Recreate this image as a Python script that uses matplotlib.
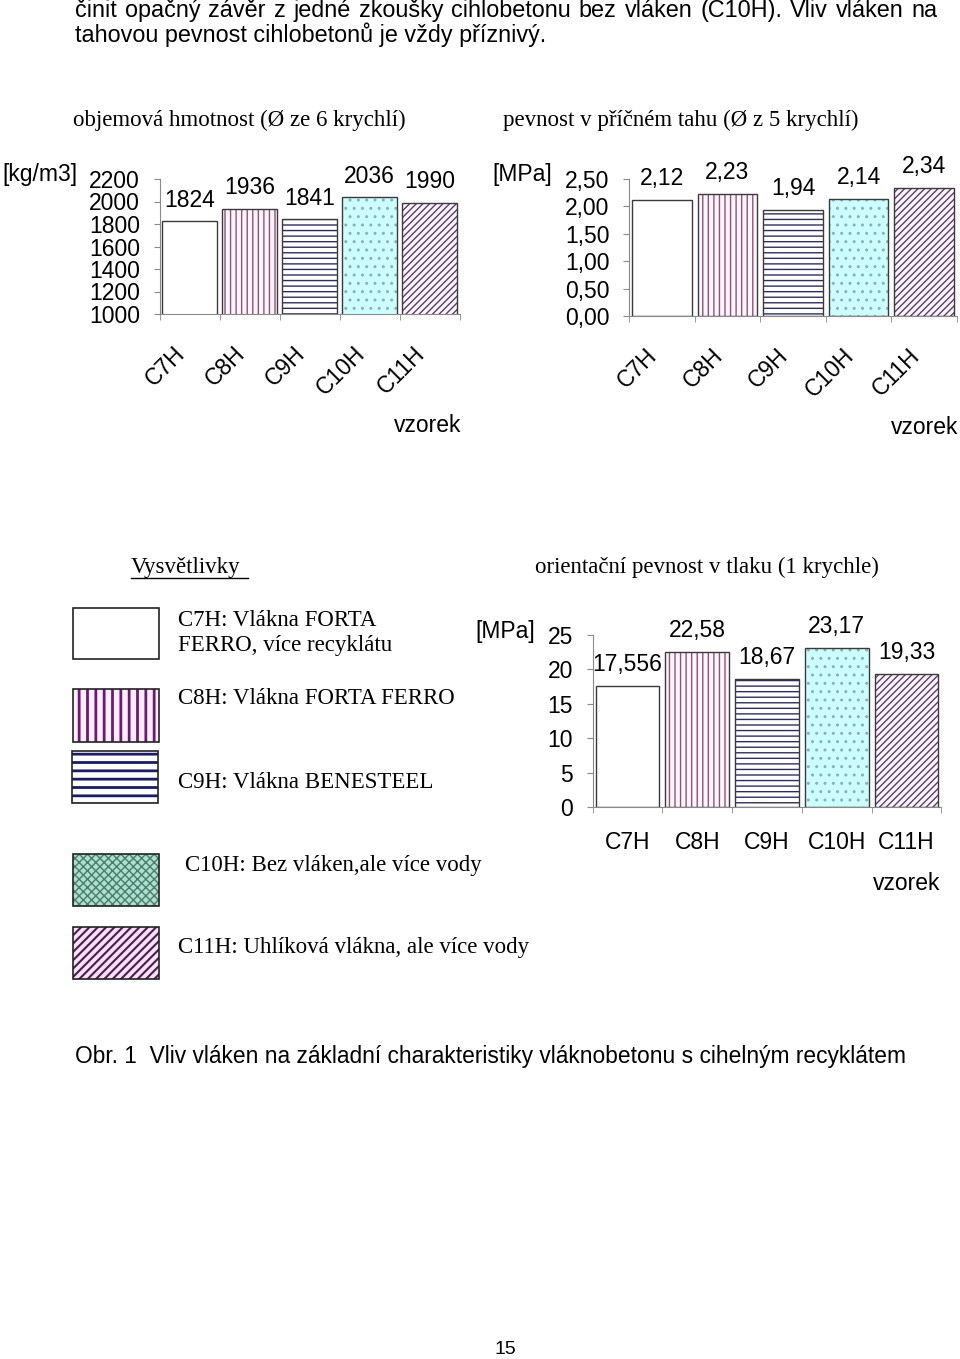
import matplotlib.pyplot as plt
from matplotlib.patches import Rectangle
from matplotlib.lines import Line2D
from matplotlib.transforms import ScaledTranslation

W, H = 960, 1359

samples = ['C7H', 'C8H', 'C9H', 'C10H', 'C11H']

density = [1824, 1936, 1841, 2036, 1990]
density_labels = ['1824', '1936', '1841', '2036', '1990']
density_ticks = [1000, 1200, 1400, 1600, 1800, 2000, 2200]

tensile = [2.12, 2.23, 1.94, 2.14, 2.34]
tensile_labels = ['2,12', '2,23', '1,94', '2,14', '2,34']
tensile_ticks = [0.0, 0.5, 1.0, 1.5, 2.0, 2.5]
tensile_tick_labels = ['0,00', '0,50', '1,00', '1,50', '2,00', '2,50']

compress = [17.556, 22.58, 18.67, 23.17, 19.33]
compress_labels = ['17,556', '22,58', '18,67', '23,17', '19,33']
compress_ticks = [0, 5, 10, 15, 20, 25]

legend_texts = ['C7H: Vlákna FORTA\nFERRO, více recyklátu',
                'C8H: Vlákna FORTA FERRO',
                'C9H: Vlákna BENESTEEL',
                'C10H: Bez vláken,ale více vody',
                'C11H: Uhlíková vlákna, ale více vody']

line1 = 'činit opačný závěr z jedné zkoušky cihlobetonu bez vláken (C10H). Vliv vláken na'
line2 = 'tahovou pevnost cihlobetonů je vždy příznivý.'
caption = 'Obr. 1  Vliv vláken na základní charakteristiky vláknobetonu s cihelným recyklátem'

# bar styles (face, hatch, hatch colour)
bar_face = ['white', '#fdf6fa', 'white', '#ccffff', '#fbf6fb']
bar_hatch = [None, '|||', '---', '..', '/////']
bar_hcol = ['white', '#94507a', '#2e2e5e', '#8fb0b4', '#5e3a6e']

SANS = 'Liberation Sans'
SERIF = 'Liberation Serif'
FS = 16.5

fig = plt.figure(figsize=(W / 100, H / 100), dpi=100)


def box(l, t, r, b):
    return [l / W, 1 - b / H, (r - l) / W, (b - t) / H]


def fx(x):
    return x / W


def fy(y):
    return 1 - y / H


def draw_chart(ax, vals, labels, ylim, yticks, ytlabels, rotate, pad_x, shift):
    x = list(range(len(vals)))
    for i in x:
        ax.bar(i, vals[i], width=0.91, color=bar_face[i], hatch=bar_hatch[i],
               edgecolor=bar_hcol[i], linewidth=0, zorder=2)
    outl = ax.bar(x, vals, width=0.91, fill=False, edgecolor='#3a3a3a',
                  linewidth=1.0, zorder=3)
    ax.bar_label(outl, labels=labels, padding=7, fontsize=FS, family=SANS,
                 clip_on=False)
    ax.set_xlim(-0.5, len(vals) - 0.5)
    ax.set_ylim(*ylim)
    ax.set_yticks(yticks, ytlabels, fontsize=FS, family=SANS)
    for s in ['top', 'right']:
        ax.spines[s].set_visible(False)
    for s in ['left', 'bottom']:
        ax.spines[s].set_color('#8a8a8a')
        ax.spines[s].set_linewidth(0.8)
    ax.tick_params(axis='y', length=4, color='#8a8a8a', pad=10)
    ax.set_xticks([i - 0.5 for i in range(len(vals) + 1)], minor=True)
    ax.tick_params(axis='x', which='minor', length=4, color='#8a8a8a')
    if rotate:
        ax.set_xticks(x, samples, rotation=45, ha='right', fontsize=FS, family=SANS)
        off = ScaledTranslation(shift / 100, 0, fig.dpi_scale_trans)
        for lab in ax.get_xticklabels():
            lab.set_transform(lab.get_transform() + off)
    else:
        ax.set_xticks(x, samples, fontsize=FS, family=SANS)
    ax.tick_params(axis='x', which='major', length=0, pad=pad_x)
    ax.patch.set_alpha(0)


ax1 = fig.add_axes(box(159.5, 179, 459.5, 314))
draw_chart(ax1, density, density_labels, (1000, 2200), density_ticks,
           [str(v) for v in density_ticks], True, 20, -8)

ax2 = fig.add_axes(box(629, 179, 957, 316))
draw_chart(ax2, tensile, tensile_labels, (0, 2.5), tensile_ticks,
           tensile_tick_labels, True, 20, -7)

ax3 = fig.add_axes(box(592.6, 635, 941.4, 807))
draw_chart(ax3, compress, compress_labels, (0, 25), compress_ticks,
           [str(v) for v in compress_ticks], False, 17, 0)

# unit / axis labels
fig.text(fx(2), fy(175), '[kg/m3]', fontsize=FS, family=SANS, va='center')
fig.text(fx(492), fy(175), '[MPa]', fontsize=FS, family=SANS, va='center')
fig.text(fx(475), fy(631), '[MPa]', fontsize=FS, family=SANS, va='center')
fig.text(fx(428), fy(425), 'vzorek', fontsize=FS, family=SANS, ha='center', va='center')
fig.text(fx(925), fy(428), 'vzorek', fontsize=FS, family=SANS, ha='center', va='center')
fig.text(fx(907), fy(884), 'vzorek', fontsize=FS, family=SANS, ha='center', va='center')

# chart titles
fig.text(fx(239), fy(120), 'objemová hmotnost (Ø ze 6 krychlí)', fontsize=FS,
         family=SERIF, ha='center', va='center')
fig.text(fx(681), fy(120), 'pevnost v příčném tahu (Ø z 5 krychlí)', fontsize=FS,
         family=SERIF, ha='center', va='center')
fig.text(fx(707), fy(567), 'orientační pevnost v tlaku (1 krychle)', fontsize=FS,
         family=SERIF, ha='center', va='center')

# legend
fig.text(fx(131), fy(567), 'Vysvětlivky', fontsize=FS, family=SERIF, va='center')
fig.add_artist(Line2D([fx(131), fx(248)], [fy(578), fy(578)], color='black', lw=1))

leg_boxes = [(73, 608, 159, 659), (73, 689, 159, 742), (72, 751, 158, 803),
             (73, 854, 159, 906), (73, 927, 159, 979)]
leg_face = ['white', '#fdeefd', 'white', '#b4dccb', '#f6e2f4']
leg_hatch = [None, '||', '--', 'xxxx', '////']
leg_hcol = ['white', '#6a1a72', '#1c1c64', '#3f8070', '#4e1c50']
leg_hlw = [1, 2.0, 2.0, 1.0, 1.5]
for i, (l, t, r, b) in enumerate(leg_boxes):
    p = Rectangle((fx(l), fy(b)), fx(r - l), (b - t) / H, transform=fig.transFigure,
                  facecolor=leg_face[i], hatch=leg_hatch[i], edgecolor=leg_hcol[i],
                  linewidth=0)
    if hasattr(p, 'set_hatch_linewidth'):
        p.set_hatch_linewidth(leg_hlw[i])
    fig.add_artist(p)
    fig.add_artist(Rectangle((fx(l), fy(b)), fx(r - l), (b - t) / H,
                             transform=fig.transFigure, fill=False,
                             edgecolor='#222222', linewidth=1.2))

leg_pos = [(178, 633), (178, 698), (178, 783), (185, 866), (178, 948)]
for (x, y), t in zip(leg_pos, legend_texts):
    fig.text(fx(x), fy(y), t, fontsize=FS, family=SERIF, va='center',
             linespacing=1.2)

# running text (first line justified between x=75 and x=938)
renderer = fig.canvas.get_renderer()
words = line1.split(' ')
texts = [fig.text(0, fy(17), w, fontsize=16.8, family=SANS, va='baseline') for w in words]
widths = [t.get_window_extent(renderer).width for t in texts]
gap = (938 - 75 - sum(widths)) / (len(words) - 1)
xpos = 75
for t, w in zip(texts, widths):
    t.set_x(fx(xpos))
    xpos += w + gap
fig.text(fx(75), fy(42), line2, fontsize=16.8, family=SANS, va='baseline')

fig.text(fx(75), fy(1056), caption, fontsize=16.4, family=SANS, va='center')
fig.text(fx(505), fy(1350), '15', fontsize=14, family=SANS, ha='center', va='center')

fig.savefig('out.png', dpi=100, facecolor='white')
